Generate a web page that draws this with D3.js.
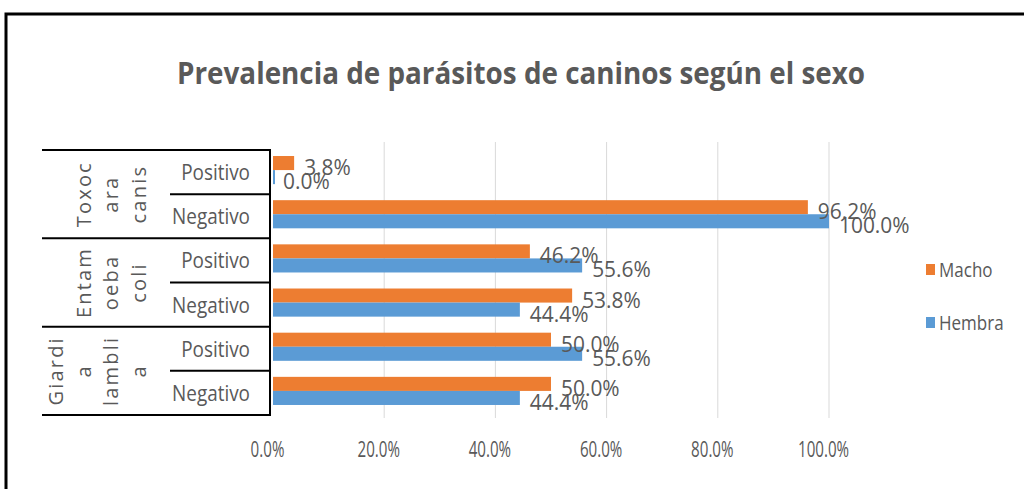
<!DOCTYPE html>
<html><head><meta charset="utf-8">
<script src="https://cdn.jsdelivr.net/npm/d3@7"></script>
<style>
body{margin:0;background:#fff;}
svg{display:block;}
text{font-family:"Open Sans","DejaVu Sans",sans-serif;fill:#595959;}
</style></head>
<body>
<svg id="c" width="1024" height="489"></svg>
<script>
const title = "Prevalencia de parásitos de caninos según el sexo";
const groups = [["Toxoc","ara","canis"],["Entam","oeba","coli"],["Giardi","a","lambli","a"]];
const categories = ["Positivo","Negativo","Positivo","Negativo","Positivo","Negativo"];
const series = ["Macho","Hembra"];
const macho = [0.038,0.962,0.462,0.538,0.500,0.500];
const hembra = [0.000,1.000,0.556,0.444,0.556,0.444];
const xTicks = [0,0.2,0.4,0.6,0.8,1.0];
const colors = {Macho:"#ED7D31", Hembra:"#5B9BD5"};

function squeeze(sel, f){
  sel.each(function(){
    const w = this.getComputedTextLength();
    d3.select(this).attr("textLength", w*f).attr("lengthAdjust","spacingAndGlyphs");
  });
}

const svg = d3.select("#c");
svg.append("rect").attr("x",0).attr("y",0).attr("width",1024).attr("height",489).attr("fill","#fff");
svg.append("rect").attr("x",6).attr("y",14).attr("width",1040).attr("height",520)
  .attr("fill","none").attr("stroke","#000").attr("stroke-width",3);

svg.append("text").attr("x",521).attr("y",84).attr("text-anchor","middle")
  .attr("font-size",31).attr("font-weight","bold")
  .attr("textLength",688).attr("lengthAdjust","spacingAndGlyphs").text(title);

const x = d3.scaleLinear().domain([0,1]).range([273,829]);
const y = d3.scaleBand().domain(d3.range(categories.length)).range([150,415]);
const ys = d3.scaleBand().domain(series).range([0,y.bandwidth()]).paddingInner(0).paddingOuter(0.57).align(0.375);

// gridlines
svg.append("g").selectAll("line").data(xTicks.slice(1)).join("line")
  .attr("x1",d=>x(d)).attr("x2",d=>x(d)).attr("y1",142).attr("y2",418)
  .attr("stroke","#d9d9d9").attr("stroke-width",1);

// x axis labels
const xAxis = d3.axisBottom(x).tickValues(xTicks).tickFormat(d3.format(".1%")).tickSize(0);
const gx = svg.append("g").attr("transform","translate(-6,454)").call(xAxis);
gx.select(".domain").remove();
gx.selectAll("text").attr("font-size",21).attr("fill","#595959").attr("dy","0")
  .style("font-family","'Open Sans',sans-serif");
squeeze(gx.selectAll("text"),0.72);

// bars
const rows = categories.map((c,i)=>({i, vals:[{s:"Macho",v:macho[i]},{s:"Hembra",v:hembra[i]}]}));
const rg = svg.append("g").selectAll("g").data(rows).join("g")
  .attr("transform",d=>`translate(0,${y(d.i)})`);
rg.selectAll("rect").data(d=>d.vals).join("rect")
  .attr("x",x(0)).attr("y",d=>ys(d.s)).attr("width",d=>Math.max(x(d.v)-x(0),d.v===0?2:0))
  .attr("height",ys.bandwidth()).attr("fill",d=>colors[d.s]);
const dl = rg.selectAll("text").data(d=>d.vals).join("text")
  .attr("x",d=>x(d.v)+10).attr("y",d=>ys(d.s)+ys.bandwidth()/2+3)
  .attr("dominant-baseline","central").attr("font-size",22)
  .text(d=>d3.format(".1%")(d.v));
squeeze(dl,0.95);

// category axis
const ax = svg.append("g").attr("stroke","#000").attr("stroke-width",2);
ax.append("line").attr("x1",270).attr("x2",270).attr("y1",y.range()[0]).attr("y2",y.range()[1]);
d3.range(0,categories.length+1,2).forEach(i=>{
  const yy = i<categories.length ? y(i) : y.range()[1];
  ax.append("line").attr("x1",42).attr("x2",271).attr("y1",yy).attr("y2",yy);
});
d3.range(1,categories.length,2).forEach(i=>{
  ax.append("line").attr("x1",170).attr("x2",271).attr("y1",y(i)).attr("y2",y(i));
});
// category labels
const cl = svg.append("g").selectAll("text").data(categories).join("text")
  .attr("x",250).attr("y",(d,i)=>y(i)+y.bandwidth()/2).attr("text-anchor","end")
  .attr("dominant-baseline","central").attr("font-size",21).text(d=>d);
squeeze(cl,0.9);
// group labels (rotated, wrapped)
groups.forEach((lines,g)=>{
  const cy = (y(g*2)+y(g*2+1)+y.bandwidth())/2;
  lines.forEach((t,k)=>{
    const cx = 138-(lines.length-1-k)*27.5;
    svg.append("text").attr("transform",`translate(${cx},${cy}) rotate(-90)`)
      .attr("text-anchor","middle").attr("dominant-baseline","central")
      .attr("font-size",20).attr("letter-spacing",2.2).text(t);
  });
});

// legend
const lg = svg.append("g").selectAll("g").data(series).join("g")
  .attr("transform",(d,i)=>`translate(926,${269+i*53})`);
lg.append("rect").attr("x",0).attr("y",-5).attr("width",9).attr("height",11).attr("fill",d=>colors[d]);
const lt = lg.append("text").attr("x",13).attr("y",0).attr("dominant-baseline","central").attr("font-size",20).text(d=>d);
squeeze(lt,0.85);
</script>
</body></html>
